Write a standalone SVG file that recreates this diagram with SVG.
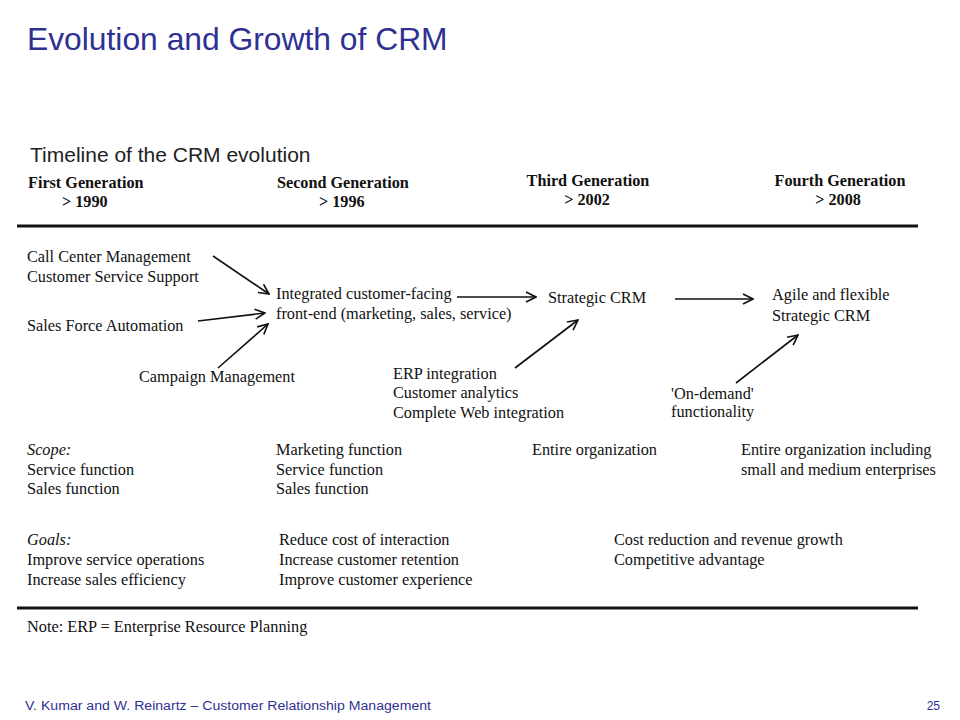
<svg xmlns="http://www.w3.org/2000/svg" width="960" height="720" viewBox="0 0 960 720">
<style>
.t{font-family:"Liberation Serif","Times New Roman",serif;font-size:16.3px;fill:#111}
.h{font-family:"Liberation Serif","Times New Roman",serif;font-size:16.2px;font-weight:bold;fill:#111}
.i{font-style:italic}
.ttl{font-family:"Liberation Sans",Arial,sans-serif;font-size:31.8px;fill:#2E3192}
.sub{font-family:"Liberation Sans",Arial,sans-serif;font-size:21px;fill:#222}
.ft{font-family:"Liberation Sans",Arial,sans-serif;font-size:12px;fill:#2E3192}
.rule{stroke:#111;stroke-width:3}
.arr{stroke:#111;stroke-width:1.6;fill:none;marker-end:url(#ah)}
</style>
<defs>
<marker id="ah" viewBox="0 0 12 12" refX="11" refY="6" markerWidth="12" markerHeight="12" markerUnits="userSpaceOnUse" orient="auto">
<path d="M1,1 L11,6 L1,11" fill="none" stroke="#111" stroke-width="1.6"/>
</marker>
</defs>
<rect width="960" height="720" fill="#fff"/>
<text class="ttl" x="27" y="50">Evolution and Growth of CRM</text>
<text class="sub" x="30" y="162">Timeline of the CRM evolution</text>

<g id="headers">
<text class="h" x="28" y="188">First Generation</text>
<text class="h" x="62" y="207">&gt; 1990</text>
<text class="h" x="277" y="188">Second Generation</text>
<text class="h" x="319" y="207">&gt; 1996</text>
<text class="h" x="588" y="186" text-anchor="middle">Third Generation</text>
<text class="h" x="587" y="205" text-anchor="middle">&gt; 2002</text>
<text class="h" x="840" y="186" text-anchor="middle">Fourth Generation</text>
<text class="h" x="838" y="205" text-anchor="middle">&gt; 2008</text>
</g>
<line class="rule" x1="17" y1="226" x2="918" y2="226"/>

<g id="n-callcenter"><text class="t" x="27" y="262">Call Center Management</text><text class="t" x="27" y="282">Customer Service Support</text></g>
<g id="n-sfa"><text class="t" x="27" y="331">Sales Force Automation</text></g>
<g id="n-campaign"><text class="t" x="139" y="382">Campaign Management</text></g>
<g id="n-integrated"><text class="t" x="276" y="299">Integrated customer-facing</text><text class="t" x="276" y="319">front-end (marketing, sales, service)</text></g>
<g id="n-strategic"><text class="t" x="548" y="303">Strategic CRM</text></g>
<g id="n-agile"><text class="t" x="772" y="300">Agile and flexible</text><text class="t" x="772" y="321">Strategic CRM</text></g>
<g id="n-erp"><text class="t" x="393" y="379">ERP integration</text><text class="t" x="393" y="398">Customer analytics</text><text class="t" x="393" y="418">Complete Web integration</text></g>
<g id="n-ondemand"><text class="t" x="671" y="399">'On-demand'</text><text class="t" x="671" y="417">functionality</text></g>

<g id="connectors">
<line class="arr" x1="213" y1="256" x2="269" y2="294"/>
<line class="arr" x1="198" y1="321" x2="265" y2="313"/>
<line class="arr" x1="218" y1="368" x2="268" y2="324"/>
<line class="arr" x1="457" y1="297" x2="536" y2="297"/>
<line class="arr" x1="515" y1="368" x2="578" y2="320"/>
<line class="arr" x1="675" y1="299" x2="753" y2="299"/>
<line class="arr" x1="736" y1="383" x2="798" y2="335"/>
</g>

<g id="scope">
<text class="t i" x="27" y="455">Scope:</text>
<text class="t" x="27" y="475">Service function</text>
<text class="t" x="27" y="494">Sales function</text>
<text class="t" x="276" y="455">Marketing function</text>
<text class="t" x="276" y="475">Service function</text>
<text class="t" x="276" y="494">Sales function</text>
<text class="t" x="532" y="455">Entire organization</text>
<text class="t" x="741" y="455">Entire organization including</text>
<text class="t" x="741" y="475">small and medium enterprises</text>
</g>

<g id="goals">
<text class="t i" x="27" y="545">Goals:</text>
<text class="t" x="27" y="565">Improve service operations</text>
<text class="t" x="27" y="585">Increase sales efficiency</text>
<text class="t" x="279" y="545">Reduce cost of interaction</text>
<text class="t" x="279" y="565">Increase customer retention</text>
<text class="t" x="279" y="585">Improve customer experience</text>
<text class="t" x="614" y="545">Cost reduction and revenue growth</text>
<text class="t" x="614" y="565">Competitive advantage</text>
</g>
<line class="rule" x1="17" y1="608" x2="918" y2="608"/>
<text class="t" x="27" y="632">Note: ERP = Enterprise Resource Planning</text>

<text class="ft" x="25" y="710" textLength="406" lengthAdjust="spacingAndGlyphs">V. Kumar and W. Reinartz – Customer Relationship Management</text>
<text class="ft" x="940" y="710" text-anchor="end">25</text>
</svg>
